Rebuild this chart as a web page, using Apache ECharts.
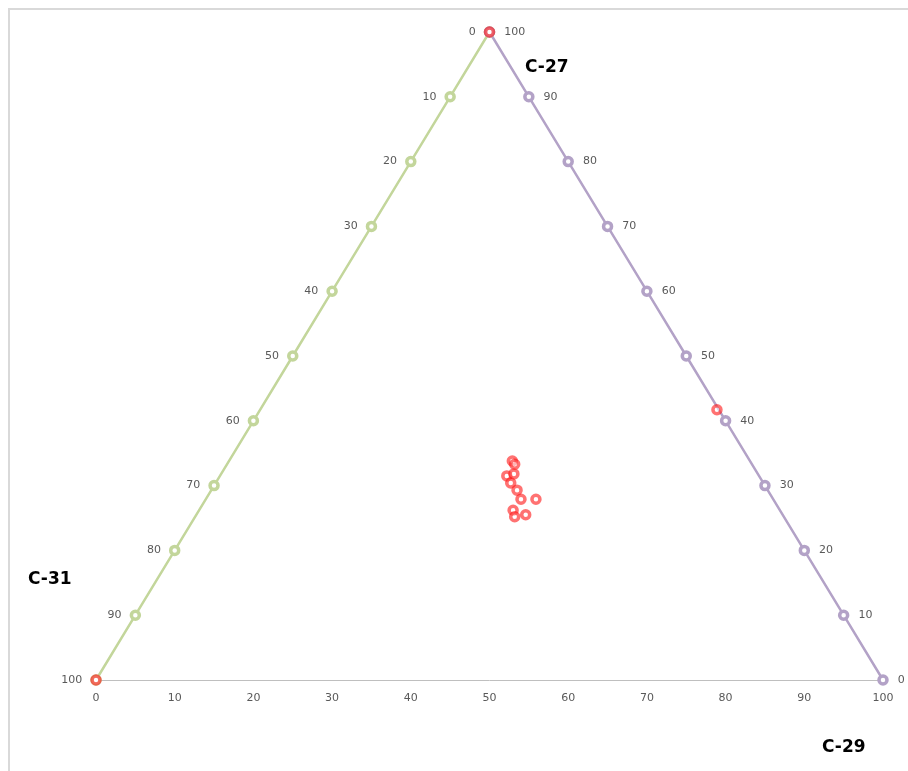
<!DOCTYPE html>
<html>
<head>
<meta charset="utf-8">
<script src="https://cdn.jsdelivr.net/npm/echarts@6/dist/echarts.min.js"></script>
<style>
html, body { margin: 0; padding: 0; background: #fff; }
#chart { position: absolute; left: 0; top: 0; width: 908px; height: 771px; }
#frame {
  position: absolute; left: 8px; top: 8px; width: 900px; height: 763px;
  border-left: 2px solid #d9d9d9; border-top: 2px solid #d9d9d9;
  pointer-events: none;
}
</style>
</head>
<body>
<div id="chart"></div>
<div id="frame"></div>
<script>
// tick values along each side of the triangle
const sideTicks = [0, 10, 20, 30, 40, 50, 60, 70, 80, 90, 100]
const xTicks = [0, 10, 20, 30, 40, 50, 60, 70, 80, 90, 100]

// left side (C-31): label L sits at x = 50 - L/2, y = 100 - L
const leftX = [50, 45, 40, 35, 30, 25, 20, 15, 10, 5, 0]
const leftY = [100, 90, 80, 70, 60, 50, 40, 30, 20, 10, 0]
// right side (C-29): label L sits at x = 100 - L/2, y = L
const rightX = [100, 95, 90, 85, 80, 75, 70, 65, 60, 55, 50]
const rightY = [0, 10, 20, 30, 40, 50, 60, 70, 80, 90, 100]

// samples (x, y in plot units)
const sampleX = [50, 0, 78.9, 52.9, 53.2, 52.2, 53.1, 52.7, 53.5, 54.0, 55.9, 53.0, 53.2, 54.6]
const sampleY = [100, 0, 41.7, 33.8, 33.3, 31.5, 31.8, 30.4, 29.3, 27.9, 27.9, 26.2, 25.2, 25.5]

const cornerNames = ['C-27', 'C-31', 'C-29']

const leftData = leftX.map((x, i) => ({ value: [x, leftY[i]], tick: sideTicks[i] }))
const rightData = rightX.map((x, i) => ({ value: [x, rightY[i]], tick: sideTicks[i] }))
const sampleData = sampleX.map((x, i) => [x, sampleY[i]])

const font = 'DejaVu Sans, Verdana, sans-serif'
const green = '#c3d69b'
const purple = '#b3a2c7'
const chart = echarts.init(document.getElementById('chart'))

chart.setOption({
  animation: false,
  title: [
    { text: cornerNames[0], left: 520, top: 54, textStyle: { fontFamily: font, fontSize: 17, fontWeight: 'bold', color: '#000' } },
    { text: cornerNames[1], left: 23, top: 566, textStyle: { fontFamily: font, fontSize: 17, fontWeight: 'bold', color: '#000' } },
    { text: cornerNames[2], left: 817, top: 734, textStyle: { fontFamily: font, fontSize: 17, fontWeight: 'bold', color: '#000' } }
  ],
  grid: { left: 96, right: 25, top: 32, bottom: 91, containLabel: false },
  xAxis: {
    type: 'value',
    min: 0,
    max: 100,
    interval: 10,
    axisLine: { show: true, lineStyle: { color: '#bfbfbf', width: 1 } },
    axisTick: { show: false },
    splitLine: { show: false },
    axisLabel: {
      color: '#595959', fontFamily: font, fontSize: 11, margin: 13,
      formatter: v => xTicks.includes(v) ? String(v) : ''
    }
  },
  yAxis: {
    type: 'value',
    min: 0,
    max: 100,
    show: false,
    splitLine: { show: false }
  },
  series: [
    {
      name: 'C-31',
      type: 'line',
      data: leftData,
      symbol: 'circle',
      symbolSize: 8,
      z: 2,
      lineStyle: { color: green, width: 2.5 },
      itemStyle: { color: '#fff', borderColor: green, borderWidth: 3.5 },
      label: {
        show: true, position: 'left', distance: 8,
        color: '#595959', fontFamily: font, fontSize: 11,
        formatter: p => String(p.data.tick)
      }
    },
    {
      name: 'C-29',
      type: 'line',
      data: rightData,
      symbol: 'circle',
      symbolSize: 8,
      z: 2,
      lineStyle: { color: purple, width: 2.5 },
      itemStyle: { color: '#fff', borderColor: purple, borderWidth: 3.5 },
      label: {
        show: true, position: 'right', distance: 9,
        color: '#595959', fontFamily: font, fontSize: 11,
        formatter: p => String(p.data.tick)
      }
    },
    {
      name: 'Samples',
      type: 'scatter',
      data: sampleData,
      symbol: 'circle',
      symbolSize: 8,
      z: 5,
      itemStyle: { color: 'rgba(255, 255, 255, 0.6)', borderColor: 'rgba(255, 20, 20, 0.75)', borderWidth: 3.5 }
    }
  ]
})
</script>
</body>
</html>
